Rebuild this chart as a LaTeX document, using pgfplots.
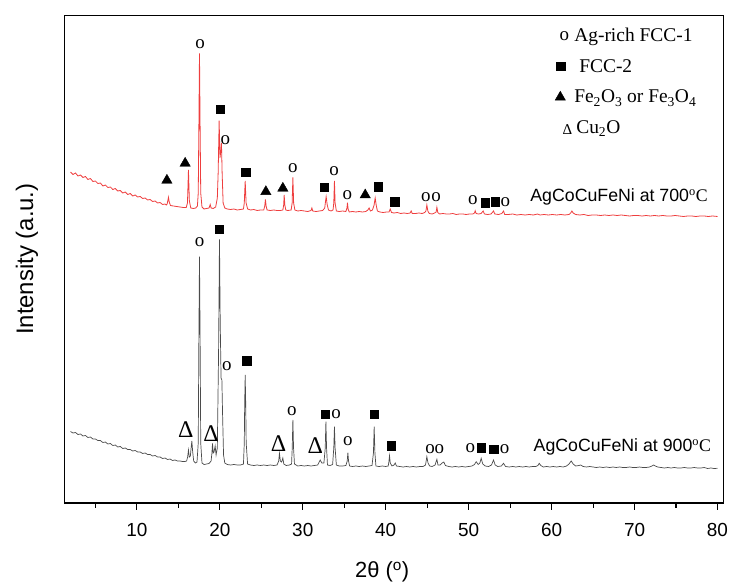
\documentclass[border=0pt]{standalone}
\usepackage{fontspec}
\setmainfont{Liberation Serif}
\setsansfont{Liberation Sans}
\usepackage{pgfplots}
\pgfplotsset{compat=1.18}
\definecolor{redline}{RGB}{238,62,62}
\definecolor{grayline}{RGB}{75,75,75}
\newcommand{\fs}[1]{\fontsize{#1}{#1}\selectfont}
\pgfplotsset{
  mk/.style={only marks, black,
    legend image code/.code={\path[draw=none, fill=none] (0bp,0bp) -- (18bp,0bp);
      \draw[##1] plot coordinates {(#1,0bp)};}},
}

\begin{document}
\begin{tikzpicture}
\path[use as bounding box] (-64.7bp,-83bp) rectangle (666.3bp,503bp);
\begin{axis}[
  at={(0,0)}, anchor=south west,
  scale only axis, width=658.6bp, height=487.7bp,
  xmin=1.3, xmax=80.7, ymin=0, ymax=487.7,
  axis line style={line width=1.3bp},
  xtick={10,20,...,80}, minor xtick={5,15,...,75},
  ytick=\empty,
  xtick pos=bottom, tick align=outside,
  major tick length=6.5bp, minor tick length=4.5bp,
  every tick/.style={black, line width=1.1bp},
  /pgf/number format/assume math mode=true,
  tick label style={font=\sffamily\fs{19}},
  xticklabel style={yshift=-10bp},
  xlabel={2θ (\textsuperscript{o})},
  ylabel={Intensity (a.u.)},
  xlabel style={font=\sffamily\fs{22}, at={(axis description cs:0.482,-0.1415)}, anchor=center},
  ylabel style={font=\sffamily\fs{24}, at={(axis description cs:-0.0572,0.5)}, anchor=center},
  clip=false,
  legend style={draw=none, fill=none, at={(axis description cs:0.7305,0.983)},
    anchor=north west, font=\rmfamily\fs{19.5}, row sep=12.5bp},
  legend cell align=left,
]
% 700 C
\addplot[redline, line width=0.8bp, forget plot] coordinates {
(2.0,331)(2.3,328.5)(2.6,330)(2.9,327)(3.2,328)(3.5,325.5)(3.8,326.5)(4.1,323.5)(4.4,324.5)(4.7,321.5)
(5.0,322)(5.3,319.5)(5.6,320)(5.9,317)(6.2,318)(6.5,315.5)(6.8,316)(7.1,313.5)(7.4,314.5)(7.7,312)
(8.0,312.5)(8.3,310)(8.6,311)(8.9,308.5)(9.2,309.5)(9.5,307)(9.8,308)(10.1,306)(10.4,306.5)(10.7,304.5)
(11.0,305)(11.3,303)(11.6,303.5)(11.9,301.5)(12.2,302)(12.5,300)(12.8,300.5)(13.1,298.5)(13.4,299)(13.55,298)
(13.65,299)(13.75,303)(13.81,305.7)(13.9,301)(14.05,297.5)
(14.4,297)(14.8,296.5)(15.2,296)(15.6,295.5)(15.95,295.5)
(16.1,300)(16.22,333)(16.33,302)(16.5,295)
(16.8,294.5)(17.1,295)(17.3,297)
(17.4,310)(17.48,380)(17.55,449.7)(17.62,380)(17.7,310)(17.85,296)
(18.1,294)(18.4,294.5)(18.7,295)(18.84,298.5)(18.95,295)
(19.2,294.5)(19.5,296)(19.7,305)
(19.8,330)(19.92,382.3)(20.02,345)(20.12,352)(20.2,360)(20.28,330)(20.4,300)(20.6,295)
(20.9,294)(21.3,293.5)(21.7,294)(22.1,293)(22.5,293.5)(22.85,294)
(22.95,300)(23.06,322)(23.17,300)(23.35,294)
(23.7,293)(24.1,293.5)(24.5,292.5)(24.9,293)(25.3,293)
(25.42,297)(25.5,303.7)(25.58,297)(25.7,293)
(26.1,292.5)(26.5,293)(26.9,292.5)(27.3,292.5)(27.6,293)
(27.7,298)(27.76,308)(27.84,298)(27.95,293)
(28.2,292.5)(28.6,293)
(28.72,300)(28.81,325.7)(28.9,300)(29.05,293)
(29.4,292)(29.8,292.5)(30.2,292)(30.6,291.5)(31.0,292.5)(31.1,295)(31.2,292)
(31.6,291.5)(32.0,292)(32.4,292.5)(32.65,295)
(32.72,300)(32.82,306.3)(32.95,298)(33.1,293)
(33.4,292)(33.65,293)
(33.74,300)(33.82,322)(33.9,300)(34.05,292)
(34.4,291.5)(34.8,292)(35.2,291.5)
(35.33,295)(35.39,300.3)(35.47,294)(35.6,291)
(36.0,291.5)(36.4,291)(36.8,291.5)(37.2,291)(37.6,291.5)(37.85,293)
(38.0,295)(38.15,292)(38.4,293)(38.6,298)(38.73,305)(38.85,298)(39.0,292)
(39.3,291)(39.7,290.5)(40.1,291)(40.4,291)(40.54,294)(40.7,290.5)
(41.0,290)(41.4,290.5)(41.8,289.5)(42.2,290)(42.6,289.5)(42.95,290)(43.07,292)(43.2,289.5)(43.6,289.5)(44.0,290)(44.4,289.5)(44.7,290.5)
(44.85,292)(44.96,298)(45.08,292)(45.25,289.5)(45.6,289)(45.9,290)
(46.08,291)(46.17,295.7)(46.28,290.5)(46.5,289)
(46.9,289.5)(47.3,289)(47.7,289)(48.1,289.5)(48.5,288.5)(48.9,289)(49.3,289)(49.7,288.5)(50.1,289)(50.5,289)
(50.7,290)(50.79,292.3)(50.9,289.5)(51.2,289)(51.5,289.5)(51.75,292)(51.9,289)(52.3,288.5)(52.7,289)(53.0,292)(53.15,289)(53.6,288.5)(54.0,289.5)(54.2,292)(54.35,288.5)
(54.8,288.5)(55.3,289)(55.8,288)(56.3,288.5)(56.8,288)(57.3,288.5)(57.8,288)(58.3,289)(58.6,288)(59.1,288.5)
(59.6,288)(60.1,288.5)(60.6,288)(61.1,288.5)(61.6,288)(62.1,288.5)(62.3,290)(62.45,292)(62.6,290)(62.9,288.5)
(63.4,288)(63.9,288.5)(64.4,287.5)(64.9,288)(65.4,288)(65.9,287.5)(66.4,288)(66.9,287.5)(67.4,288)(67.9,287.5)
(68.4,288)(68.9,287.5)(69.4,287)(69.9,287.5)(70.4,287.5)(70.9,287)(71.4,287.5)(71.9,287)(72.4,287.5)(72.9,287)
(73.4,287.5)(73.9,287)(74.4,287)(74.9,287.5)(75.4,287)(75.9,286.5)(76.4,287)(76.9,287)(77.4,286.5)(77.9,287)
(78.4,287)(78.9,286.5)(79.4,287)(80.0,286.5)
};
% 900 C
\addplot[grayline, line width=0.7bp, forget plot] coordinates {
(2.0,71.5)(2.3,70)(2.6,70.5)(2.9,68.5)(3.2,69)(3.5,67)(3.8,67.5)(4.1,65.5)(4.4,66)(4.7,64)
(5.0,64)(5.3,62.5)(5.6,62.5)(5.9,60.5)(6.2,61)(6.5,59)(6.8,59.5)(7.1,57.5)(7.4,58)(7.7,56)
(8.0,56.5)(8.3,54.5)(8.6,55)(8.9,53.5)(9.2,53.5)(9.5,52)(9.8,52.5)(10.1,51)(10.4,51)(10.7,49.5)
(11.0,50)(11.3,48.5)(11.6,48.5)(11.9,47)(12.2,47.5)(12.5,46)(12.8,46)(13.1,44.5)(13.4,45)(13.7,43.5)
(14.0,44)(14.3,42.5)(14.6,43)(14.9,42)(15.2,42)(15.5,41.5)(15.8,41.5)
(16.0,42)(16.12,46)(16.22,53)(16.32,46)(16.45,47)(16.55,56)(16.63,62)(16.72,52)(16.85,42)
(17.05,40)(17.25,41)
(17.4,60)(17.48,170)(17.55,246.3)(17.62,170)(17.7,60)(17.85,40)
(18.1,38.5)(18.4,39)(18.7,39.5)(18.95,42)
(19.05,50)(19.12,59.7)(19.2,50)(19.3,51)(19.44,57)(19.55,48)
(19.7,55)(19.85,150)(19.96,263.7)(20.05,180)(20.15,125)(20.25,123)(20.33,90)(20.45,48)(20.6,40)
(20.9,38.5)(21.3,38)(21.7,38.5)(22.1,38)(22.5,38)(22.85,39)
(22.95,60)(23.0,100)(23.06,128)(23.12,100)(23.18,60)(23.35,39)
(23.7,38)(24.1,37.5)(24.5,38)(24.9,37.5)(25.3,38)(25.7,37.5)(26.1,38)(26.5,37.5)(26.9,38)
(27.1,42)(27.19,49.7)(27.3,42)(27.45,41)(27.6,45)(27.72,39)
(28.0,37.5)(28.4,38)(28.65,39)
(28.73,55)(28.81,83)(28.89,55)(29.0,39)
(29.4,37)(29.8,37.5)(30.2,37)(30.6,37.5)(31.0,37)(31.4,37.5)(31.8,38)
(32.1,43)(32.3,40)(32.55,40)
(32.71,55)(32.79,81.3)(32.87,55)(32.98,38)
(33.3,37.5)(33.6,38.5)
(33.74,55)(33.82,76.3)(33.9,55)(34.05,38)
(34.4,37)(34.8,37)(35.2,37.5)
(35.36,42)(35.44,50.3)(35.52,42)(35.65,37)
(36.0,36.5)(36.4,37)(36.8,36.5)(37.2,37)(37.6,36.5)(38.0,37)(38.35,37.5)
(38.52,50)(38.61,76.3)(38.7,50)(38.82,37)
(39.2,36.5)(39.6,37)(40.0,36.5)(40.3,37)
(40.38,41)(40.46,47.3)(40.55,40)(40.75,37)(41.0,38)(41.15,40)(41.3,37)
(41.7,36.5)(42.1,36)(42.5,36.5)(42.9,36)(43.3,36.5)(43.7,36)(44.1,36.5)(44.5,36.5)(44.8,38)
(44.96,46.3)(45.1,40)(45.3,37)(45.6,36.5)(45.95,38)(46.17,43.7)(46.3,38)(46.55,38)(46.8,40)(47.0,41)(47.2,37.5)
(47.6,36.5)(48.0,36)(48.4,36.5)(48.8,36)(49.2,36.5)(49.6,36)(50.0,36.5)(50.4,37)(50.7,38.5)(50.91,41.3)
(51.15,38.5)(51.35,40)(51.51,44.7)(51.7,39)(52.0,37)(52.4,36.5)(52.75,38)(53.0,43)(53.2,38)(53.5,36.5)
(53.95,37)(54.2,39.7)(54.45,36.5)
(54.9,36)(55.3,36.5)(55.7,36)(56.1,36.5)(56.5,36)(56.9,36.5)(57.3,36)(57.7,36.5)(58.1,36.5)(58.35,37.5)
(58.5,39.7)(58.7,37.5)(59.0,36)(59.4,36.5)(59.8,36)(60.2,36.5)(60.6,36)(61.0,36.5)(61.4,36)(61.8,37)
(62.1,39)(62.36,42)(62.6,39)(62.9,37)(63.3,37.5)(63.5,38)(63.8,36.5)(64.2,36)(64.6,36.5)(65.0,36)
(65.4,35.5)(65.8,36)(66.2,35.5)(66.6,36)(67.0,35.5)(67.4,36)(67.8,35.5)(68.2,36)(68.6,35.5)(69.0,35.5)
(69.4,36)(69.8,35.5)(70.2,35.5)(70.6,36)(71.0,35.5)(71.4,35.5)(71.8,36)(72.1,37)(72.3,38)(72.5,37)
(72.8,36)(73.2,35.5)(73.6,35)(74.0,35.5)(74.4,35)(74.8,35.5)(75.2,35)(75.6,35)(76.0,35.5)(76.4,35)
(76.8,35)(77.2,35.5)(77.6,35)(78.0,35)(78.4,35.5)(78.8,34.5)(79.2,35)(79.6,34.5)(80.0,34.7)
};
% Ag-rich FCC-1
\addplot[only marks, black, mark=text, text mark as node=true, text mark={o},
  text mark style={font=\rmfamily\fs{19}, inner sep=0pt},
  legend image code/.code={\path[draw=none, fill=none] (0bp,0bp) -- (18bp,0bp);
    \node[font=\rmfamily\fs{19}, inner sep=0pt] at (10.4bp,-2bp) {o};}] coordinates {
(17.63,459)(20.68,363)(28.81,335.3)(33.79,332)(35.39,308)(44.83,306.3)(46.09,306.3)(50.51,303)(54.41,301.3)
(17.55,260.7)(20.85,137.3)(28.69,92)(34.03,89)(35.44,62)(45.36,54)(46.48,54)(50.19,55.3)(54.32,54)
};
\addlegendentry{Ag-rich FCC-1}
% FCC-2
\addplot[mk=11.8bp, mark=square*, mark size=4.2bp] coordinates {
(20.04,394)(23.14,331)(32.62,315.7)(39.13,316.3)(41.06,301.3)(51.99,300.3)(53.2,301.3)
(19.89,273.7)(23.26,142.3)(32.7,89)(38.61,88.7)(40.66,57.3)(51.51,55.3)(53.0,54)
};
\addlegendentry{\hspace{5bp}FCC-2}
% Fe2O3 or Fe3O4
\addplot[mk=11.3bp, mark=triangle*, mark size=6bp] coordinates {
(13.62,322.7)(15.82,339.7)(25.55,311.3)(27.6,314.7)(37.53,308)
};
\addlegendentry{Fe\textsubscript{2}O\textsubscript{3} or Fe\textsubscript{3}O\textsubscript{4}}
% Cu2O
\addplot[only marks, black, mark=text, text mark as node=true, text mark={Δ},
  text mark style={font=\rmfamily\fs{24}, inner sep=0pt},
  legend image code/.code={\path[draw=none, fill=none] (0bp,0bp) -- (18bp,0bp);
    \node[font=\rmfamily\fs{15}, inner sep=0pt] at (13.5bp,-2.5bp) {Δ};}] coordinates {
(15.91,73)(18.96,69)(27.07,59.7)(31.5,57.3)
};
\addlegendentry{\hspace{2bp}Cu\textsubscript{2}O}

\node[anchor=west, font=\sffamily\fs{17.8}, inner sep=0pt] at (axis cs:57.42,306.3) {AgCoCuFeNi at 700{\rmfamily\textsuperscript{o}C}};
\node[anchor=west, font=\sffamily\fs{17.8}, inner sep=0pt] at (axis cs:57.82,56.3) {AgCoCuFeNi at 900{\rmfamily\textsuperscript{o}C}};
\end{axis}
\end{tikzpicture}
\end{document}
